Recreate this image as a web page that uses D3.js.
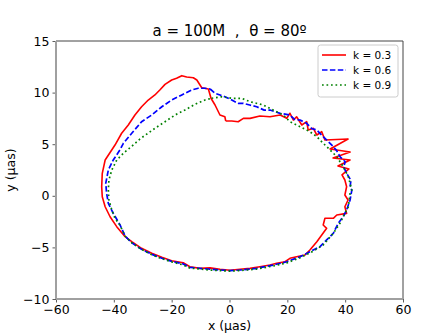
<!DOCTYPE html>
<html>
<head>
<meta charset="utf-8">
<script src="https://cdn.jsdelivr.net/npm/d3@7"></script>
<style>
  body { margin: 0; background: #fff; }
  text { font-family: "DejaVu Sans", sans-serif; fill: #000; }
</style>
</head>
<body>
<script>
// series labels
const labels = ["k = 0.3", "k = 0.6", "k = 0.9"];

// k = 0.3 (x, y in μas)
const curveK03 = [
  [-1.3, 7.25], [0.8, 7.25], [3.0, 7.18], [4.8, 7.5], [7.1, 7.5], [10.5, 7.73], [14.0, 7.66],
  [17.5, 7.83], [19.8, 7.51], [20.9, 8.0], [22.1, 7.34], [23.2, 7.66], [25.0, 6.86], [26.7, 7.18],
  [27.2, 6.38], [29.0, 6.54], [30.2, 5.89], [31.9, 6.21], [33.0, 5.41], [41.0, 5.5], [34.8, 4.53],
  [41.7, 4.24], [35.8, 3.66], [41.7, 3.47], [37.5, 2.89], [41.3, 2.6], [38.9, 2.02], [39.9, 1.53],
  [40.5, 0.88], [39.9, 0.08], [41.0, -0.41], [39.9, -1.06], [40.5, -1.7], [37.1, -1.86],
  [35.9, -2.18], [33.0, -2.18], [32.4, -2.83], [33.6, -3.15], [31.9, -3.8], [30.2, -4.45],
  [27.8, -5.25], [26.1, -5.74], [23.2, -5.9], [20.9, -6.06], [19.2, -6.39], [16.3, -6.54],
  [14.0, -6.71], [10.5, -6.87], [7.1, -7.03], [3.6, -7.12], [0.2, -7.22], [-3.3, -7.12],
  [-6.7, -6.98], [-10.2, -7.03], [-13.7, -6.87], [-16.0, -6.48], [-20.0, -6.29], [-23.4, -5.96],
  [-26.9, -5.57], [-30.4, -5.09], [-33.8, -4.45], [-36.1, -3.96], [-39.0, -2.99], [-41.3, -2.03],
  [-43.0, -1.06], [-44.0, -0.09], [-44.2, 0.88], [-44.0, 2.18], [-43.0, 3.47], [-41.3, 4.2],
  [-39.6, 4.92], [-37.3, 6.06], [-35.0, 6.86], [-32.7, 7.83], [-30.4, 8.63], [-28.1, 9.28],
  [-25.8, 9.77], [-24.1, 10.25], [-22.3, 10.8], [-20.0, 11.22], [-18.3, 11.39], [-16.5, 11.64],
  [-14.8, 11.51], [-12.5, 11.44], [-11.3, 11.22], [-9.6, 10.47], [-7.3, 10.35], [-6.4, 9.45],
  [-5.0, 8.8], [-3.3, 7.83], [-1.6, 7.66], [-1.3, 7.25]
];

// k = 0.6
const curveK06 = [
  [-6.7, 10.35], [-5.0, 9.93], [-1.6, 9.6], [0.8, 9.28], [3.0, 8.96], [4.8, 8.96], [7.0, 8.8],
  [9.4, 8.63], [12.0, 8.3], [14.0, 8.31], [17.5, 7.99], [20.9, 7.83], [22.5, 7.4], [24.4, 7.34],
  [26.7, 7.02], [28.5, 6.5], [30.2, 6.38], [32.4, 5.73], [34.0, 5.3], [35.9, 4.76], [37.0, 4.4],
  [38.2, 3.79], [40.0, 3.3], [39.5, 2.8], [40.5, 2.18], [42.0, 1.5], [41.7, 0.88], [42.3, 0.56],
  [41.7, -0.41], [40.5, -1.38], [39.3, -2.03], [37.6, -2.66], [35.9, -3.63], [33.6, -4.28],
  [31.3, -4.93], [27.8, -5.42], [24.4, -5.9], [19.8, -6.39], [15.1, -6.71], [9.4, -7.03],
  [3.6, -7.19], [0.2, -7.25], [-6.7, -7.12], [-13.7, -6.93], [-16.0, -6.6], [-20.0, -6.35],
  [-23.4, -6.05], [-26.9, -5.67], [-30.4, -5.19], [-33.8, -4.55], [-36.1, -3.9], [-37.9, -2.8],
  [-40.2, -1.7], [-41.9, -0.73], [-42.5, 0.24], [-42.8, 1.21], [-41.9, 2.5], [-40.2, 3.47],
  [-37.9, 4.44], [-36.7, 5.09], [-33.8, 6.06], [-30.4, 7.18], [-26.9, 7.83], [-23.4, 8.63],
  [-20.0, 9.28], [-16.5, 9.77], [-13.1, 10.25], [-10.8, 10.42], [-8.5, 10.42], [-6.7, 10.35]
];

// k = 0.9
const curveK09 = [
  [-6.2, 9.45], [-2.7, 9.6], [0.8, 9.45], [4.2, 9.45], [7.1, 9.12], [11.7, 8.8], [15.1, 8.31],
  [18.6, 7.83], [20.9, 7.18], [24.4, 6.7], [27.8, 6.21], [30.2, 5.73], [32.4, 5.09], [34.8, 4.44],
  [37.1, 3.79], [39.3, 2.82], [41.1, 1.85], [42.3, 0.56], [41.7, 0.25], [41.1, -1.06],
  [39.9, -1.7], [38.2, -2.66], [35.9, -3.63], [32.4, -4.77], [29.0, -5.35], [24.4, -6.0],
  [19.8, -6.5], [15.1, -6.8], [9.4, -7.1], [3.6, -7.25], [0.2, -7.3], [-6.7, -7.2],
  [-13.7, -7.0], [-16.0, -6.7], [-20.0, -6.4], [-23.4, -6.1], [-26.9, -5.7], [-30.4, -5.2],
  [-33.8, -4.55], [-36.1, -3.9], [-37.9, -2.83], [-39.6, -2.18], [-40.7, -1.38], [-41.7, -0.41],
  [-41.9, 0.56], [-41.7, 1.53], [-40.7, 2.5], [-39.0, 3.47], [-36.7, 4.12], [-33.8, 4.8],
  [-31.0, 5.5], [-28.0, 6.1], [-25.8, 6.54], [-22.3, 7.18], [-18.8, 7.83], [-15.4, 8.31],
  [-11.9, 8.87], [-8.5, 9.28], [-6.2, 9.45]
];

const curves = [curveK03, curveK06, curveK09];
const xTicks = [-60, -40, -20, 0, 20, 40, 60];
const yTicks = [-10, -5, 0, 5, 10, 15];

// styles
const colors = ["#ff0000", "#0000ff", "#008000"],
  dashes = [null, "5.5,2.4", "1.7,2.8"],
  widths = [1.6, 1.7, 1.7];

const margin = { top: 41, right: 45, bottom: 37, left: 56 },
  width = 448 - margin.left - margin.right,
  height = 336 - margin.top - margin.bottom;

const root = d3.select("body").append("svg")
  .attr("width", 448).attr("height", 336);

const svg = root.append("g")
  .attr("transform", "translate(" + margin.left + ", " + margin.top + ")");

const x = d3.scaleLinear().domain([-60, 60]).range([0, width]),
  y = d3.scaleLinear().domain([-10, 15]).range([height, 0]);

// clip
svg.append("clipPath").attr("id", "clip")
  .append("rect").attr("width", width).attr("height", height);

// curves
const valueline = d3.line()
  .x(d => x(d[0]))
  .y(d => y(d[1]));

svg.append("g").attr("clip-path", "url(#clip)")
  .selectAll("path")
  .data(curves)
  .join("path")
  .attr("d", valueline)
  .attr("fill", "none")
  .attr("stroke", (d, i) => colors[i])
  .attr("stroke-width", (d, i) => widths[i])
  .attr("stroke-dasharray", (d, i) => dashes[i])
  .attr("stroke-linejoin", "round");

// 軸
const xAxis = svg.append("g")
  .attr("transform", "translate(0, " + height + ")")
  .call(d3.axisBottom(x).tickValues(xTicks).tickSize(3.5).tickPadding(3));
const yAxis = svg.append("g")
  .call(d3.axisLeft(y).tickValues(yTicks).tickSize(3.5).tickPadding(3));

[xAxis, yAxis].forEach(a => {
  a.select(".domain").remove();
  a.selectAll("line").attr("stroke", "#333").attr("stroke-width", 0.8);
  a.selectAll("text").style("font-size", "12.5px").style("font-family", "DejaVu Sans");
});

// spines
svg.append("line").attr("x1", 0).attr("x2", width).attr("y1", 0).attr("y2", 0)
  .attr("stroke", "#444").attr("stroke-width", 1);
svg.append("line").attr("x1", width).attr("x2", width).attr("y1", 0).attr("y2", height)
  .attr("stroke", "#444").attr("stroke-width", 1);
svg.append("line").attr("x1", 0).attr("x2", 0).attr("y1", 0).attr("y2", height)
  .attr("stroke", "#a0a0a0").attr("stroke-width", 2);
svg.append("line").attr("x1", 0).attr("x2", width).attr("y1", height).attr("y2", height)
  .attr("stroke", "#a0a0a0").attr("stroke-width", 2);

// title
root.append("text")
  .attr("x", margin.left + width / 2).attr("y", 36)
  .attr("text-anchor", "middle")
  .style("font-size", "15px")
  .style("white-space", "pre")
  .text("a = 100M  ,  θ = 80º");

// axis labels
root.append("text")
  .attr("x", margin.left + width / 2).attr("y", 330)
  .attr("text-anchor", "middle")
  .style("font-size", "12.5px")
  .text("x (μas)");
root.append("text")
  .attr("transform", "translate(15, " + (margin.top + height / 2) + ") rotate(-90)")
  .attr("text-anchor", "middle")
  .style("font-size", "12.5px")
  .text("y (μas)");

// legend
const legend = svg.append("g").attr("transform", "translate(" + (width - 85) + ", 4)");
legend.append("rect")
  .attr("width", 80).attr("height", 52).attr("rx", 2.5)
  .attr("fill", "#fff").attr("fill-opacity", 0.8)
  .attr("stroke", "#cccccc").attr("stroke-width", 1);
labels.forEach((lab, i) => {
  const ly = 10 + i * 15;
  legend.append("line")
    .attr("x1", 4).attr("x2", 28).attr("y1", ly).attr("y2", ly)
    .attr("stroke", colors[i])
    .attr("stroke-width", widths[i])
    .attr("stroke-dasharray", dashes[i]);
  legend.append("text")
    .attr("x", 35).attr("y", ly + 4)
    .style("font-size", "10.5px")
    .text(lab);
});
</script>
</body>
</html>
